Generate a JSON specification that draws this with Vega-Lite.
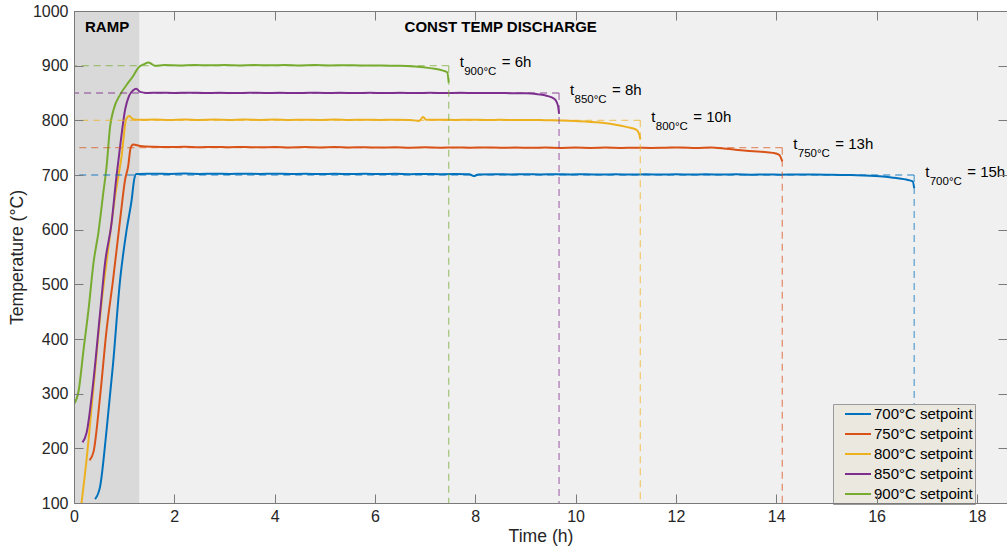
{
  "$schema": "https://vega.github.io/schema/vega-lite/v6.json",
  "width": 933,
  "height": 492,
  "autosize": {"type": "none"},
  "padding": {"left": 74, "top": 11, "right": 0, "bottom": 53},
  "background": "#ffffff",
  "config": {
    "font": "Liberation Sans",
    "view": {"stroke": null, "fill": "#f0f0f0"},
    "axis": {"grid": false}
  },
  "datasets": {
    "ramp": [{"x0": 0, "x1": 1.3, "y0": 100, "y1": 1000}],
    "labels": [
      {"t": 0.22, "T": 970, "text": "RAMP"},
      {"t": 6.59, "T": 970, "text": "CONST TEMP DISCHARGE"}
    ],
    "refs": [
      {"s": "700°C setpoint", "sp": 700, "te": 16.75, "sub": "700°C", "eq": "= 15h"},
      {"s": "750°C setpoint", "sp": 750, "te": 14.12, "sub": "750°C", "eq": "= 13h"},
      {"s": "800°C setpoint", "sp": 800, "te": 11.29, "sub": "800°C", "eq": "= 10h"},
      {"s": "850°C setpoint", "sp": 850, "te": 9.67, "sub": "850°C", "eq": "= 8h"},
      {"s": "900°C setpoint", "sp": 900, "te": 7.47, "sub": "900°C", "eq": "= 6h"}
    ],
    "lines": [
      {"s": "700°C setpoint", "t": 0.42, "T": 107}, {"s": "700°C setpoint", "t": 0.52, "T": 130}, {"s": "700°C setpoint", "t": 0.65, "T": 234}, {"s": "700°C setpoint", "t": 0.78, "T": 356}, {"s": "700°C setpoint", "t": 0.92, "T": 509}, {"s": "700°C setpoint", "t": 1.05, "T": 600}, {"s": "700°C setpoint", "t": 1.15, "T": 655}, {"s": "700°C setpoint", "t": 1.2, "T": 692}, {"s": "700°C setpoint", "t": 1.24, "T": 702}, {"s": "700°C setpoint", "t": 1.3, "T": 702}, {"s": "700°C setpoint", "t": 1.6, "T": 702.5}, {"s": "700°C setpoint", "t": 1.9, "T": 702}, {"s": "700°C setpoint", "t": 2.2, "T": 702.6}, {"s": "700°C setpoint", "t": 2.5, "T": 702}, {"s": "700°C setpoint", "t": 2.8, "T": 702.5}, {"s": "700°C setpoint", "t": 3.1, "T": 701.9}, {"s": "700°C setpoint", "t": 3.4, "T": 702.4}, {"s": "700°C setpoint", "t": 3.7, "T": 701.9}, {"s": "700°C setpoint", "t": 4, "T": 702.4}, {"s": "700°C setpoint", "t": 4.3, "T": 701.8}, {"s": "700°C setpoint", "t": 4.6, "T": 702.3}, {"s": "700°C setpoint", "t": 4.9, "T": 701.8}, {"s": "700°C setpoint", "t": 5.2, "T": 702.3}, {"s": "700°C setpoint", "t": 5.5, "T": 701.7}, {"s": "700°C setpoint", "t": 5.8, "T": 702.2}, {"s": "700°C setpoint", "t": 6.1, "T": 701.7}, {"s": "700°C setpoint", "t": 6.4, "T": 702.1}, {"s": "700°C setpoint", "t": 6.7, "T": 701.6}, {"s": "700°C setpoint", "t": 7, "T": 702}, {"s": "700°C setpoint", "t": 7.3, "T": 701.5}, {"s": "700°C setpoint", "t": 7.6, "T": 701.7}, {"s": "700°C setpoint", "t": 7.88, "T": 701.2}, {"s": "700°C setpoint", "t": 7.97, "T": 698}, {"s": "700°C setpoint", "t": 8.06, "T": 701}, {"s": "700°C setpoint", "t": 8.4, "T": 701.5}, {"s": "700°C setpoint", "t": 8.7, "T": 701}, {"s": "700°C setpoint", "t": 9, "T": 701.6}, {"s": "700°C setpoint", "t": 9.3, "T": 701}, {"s": "700°C setpoint", "t": 9.6, "T": 701.5}, {"s": "700°C setpoint", "t": 9.9, "T": 700.9}, {"s": "700°C setpoint", "t": 10.2, "T": 701.4}, {"s": "700°C setpoint", "t": 10.5, "T": 700.8}, {"s": "700°C setpoint", "t": 10.8, "T": 701.4}, {"s": "700°C setpoint", "t": 11.1, "T": 700.8}, {"s": "700°C setpoint", "t": 11.4, "T": 701.3}, {"s": "700°C setpoint", "t": 11.7, "T": 700.8}, {"s": "700°C setpoint", "t": 12, "T": 701.3}, {"s": "700°C setpoint", "t": 12.3, "T": 700.7}, {"s": "700°C setpoint", "t": 12.6, "T": 701.2}, {"s": "700°C setpoint", "t": 12.9, "T": 700.7}, {"s": "700°C setpoint", "t": 13.2, "T": 701.2}, {"s": "700°C setpoint", "t": 13.5, "T": 700.6}, {"s": "700°C setpoint", "t": 13.8, "T": 701.1}, {"s": "700°C setpoint", "t": 14.1, "T": 700.6}, {"s": "700°C setpoint", "t": 14.4, "T": 701.1}, {"s": "700°C setpoint", "t": 14.76, "T": 701}, {"s": "700°C setpoint", "t": 15.1, "T": 700.5}, {"s": "700°C setpoint", "t": 15.5, "T": 699.8}, {"s": "700°C setpoint", "t": 16.06, "T": 697.7}, {"s": "700°C setpoint", "t": 16.3, "T": 695.5}, {"s": "700°C setpoint", "t": 16.59, "T": 691.6}, {"s": "700°C setpoint", "t": 16.72, "T": 688.5}, {"s": "700°C setpoint", "t": 16.75, "T": 676},

      {"s": "750°C setpoint", "t": 0.31, "T": 178}, {"s": "750°C setpoint", "t": 0.39, "T": 194}, {"s": "750°C setpoint", "t": 0.52, "T": 295}, {"s": "750°C setpoint", "t": 0.65, "T": 417}, {"s": "750°C setpoint", "t": 0.78, "T": 509}, {"s": "750°C setpoint", "t": 0.92, "T": 619}, {"s": "750°C setpoint", "t": 1.02, "T": 692}, {"s": "750°C setpoint", "t": 1.08, "T": 716}, {"s": "750°C setpoint", "t": 1.13, "T": 750}, {"s": "750°C setpoint", "t": 1.18, "T": 756}, {"s": "750°C setpoint", "t": 1.32, "T": 753}, {"s": "750°C setpoint", "t": 1.6, "T": 751.5}, {"s": "750°C setpoint", "t": 1.9, "T": 751}, {"s": "750°C setpoint", "t": 2.2, "T": 751.6}, {"s": "750°C setpoint", "t": 2.5, "T": 750.8}, {"s": "750°C setpoint", "t": 2.8, "T": 751.4}, {"s": "750°C setpoint", "t": 3.1, "T": 750.7}, {"s": "750°C setpoint", "t": 3.4, "T": 751.3}, {"s": "750°C setpoint", "t": 3.7, "T": 750.6}, {"s": "750°C setpoint", "t": 4, "T": 751.2}, {"s": "750°C setpoint", "t": 4.3, "T": 750.5}, {"s": "750°C setpoint", "t": 4.6, "T": 751}, {"s": "750°C setpoint", "t": 4.9, "T": 750.4}, {"s": "750°C setpoint", "t": 5.2, "T": 751}, {"s": "750°C setpoint", "t": 5.5, "T": 750.3}, {"s": "750°C setpoint", "t": 5.8, "T": 750.8}, {"s": "750°C setpoint", "t": 6.1, "T": 750.2}, {"s": "750°C setpoint", "t": 6.4, "T": 750.8}, {"s": "750°C setpoint", "t": 6.7, "T": 750}, {"s": "750°C setpoint", "t": 7, "T": 750.6}, {"s": "750°C setpoint", "t": 7.3, "T": 750}, {"s": "750°C setpoint", "t": 7.6, "T": 750.5}, {"s": "750°C setpoint", "t": 7.9, "T": 750}, {"s": "750°C setpoint", "t": 8.2, "T": 750.4}, {"s": "750°C setpoint", "t": 8.5, "T": 749.8}, {"s": "750°C setpoint", "t": 8.8, "T": 750.3}, {"s": "750°C setpoint", "t": 9.1, "T": 749.7}, {"s": "750°C setpoint", "t": 9.4, "T": 750.2}, {"s": "750°C setpoint", "t": 9.7, "T": 749.6}, {"s": "750°C setpoint", "t": 10, "T": 750.1}, {"s": "750°C setpoint", "t": 10.3, "T": 749.5}, {"s": "750°C setpoint", "t": 10.6, "T": 750.1}, {"s": "750°C setpoint", "t": 10.9, "T": 749.6}, {"s": "750°C setpoint", "t": 11.2, "T": 750}, {"s": "750°C setpoint", "t": 11.5, "T": 749.5}, {"s": "750°C setpoint", "t": 11.8, "T": 750}, {"s": "750°C setpoint", "t": 12.1, "T": 750.5}, {"s": "750°C setpoint", "t": 12.4, "T": 749.5}, {"s": "750°C setpoint", "t": 12.7, "T": 750.5}, {"s": "750°C setpoint", "t": 13, "T": 748}, {"s": "750°C setpoint", "t": 13.4, "T": 744.5}, {"s": "750°C setpoint", "t": 13.7, "T": 742.5}, {"s": "750°C setpoint", "t": 13.93, "T": 740.5}, {"s": "750°C setpoint", "t": 14.06, "T": 737}, {"s": "750°C setpoint", "t": 14.12, "T": 725},

      {"s": "800°C setpoint", "t": 0.15, "T": 100}, {"s": "800°C setpoint", "t": 0.25, "T": 179}, {"s": "800°C setpoint", "t": 0.39, "T": 313}, {"s": "800°C setpoint", "t": 0.55, "T": 466}, {"s": "800°C setpoint", "t": 0.69, "T": 570}, {"s": "800°C setpoint", "t": 0.82, "T": 661}, {"s": "800°C setpoint", "t": 0.95, "T": 735}, {"s": "800°C setpoint", "t": 1.04, "T": 802}, {"s": "800°C setpoint", "t": 1.1, "T": 808}, {"s": "800°C setpoint", "t": 1.18, "T": 802}, {"s": "800°C setpoint", "t": 1.3, "T": 801}, {"s": "800°C setpoint", "t": 1.6, "T": 801.5}, {"s": "800°C setpoint", "t": 1.9, "T": 800.8}, {"s": "800°C setpoint", "t": 2.2, "T": 801.5}, {"s": "800°C setpoint", "t": 2.5, "T": 800.8}, {"s": "800°C setpoint", "t": 2.8, "T": 801.3}, {"s": "800°C setpoint", "t": 3.1, "T": 800.7}, {"s": "800°C setpoint", "t": 3.4, "T": 801.4}, {"s": "800°C setpoint", "t": 3.7, "T": 800.8}, {"s": "800°C setpoint", "t": 4, "T": 801.3}, {"s": "800°C setpoint", "t": 4.3, "T": 800.6}, {"s": "800°C setpoint", "t": 4.6, "T": 801.2}, {"s": "800°C setpoint", "t": 4.9, "T": 800.7}, {"s": "800°C setpoint", "t": 5.2, "T": 801.3}, {"s": "800°C setpoint", "t": 5.5, "T": 800.6}, {"s": "800°C setpoint", "t": 5.8, "T": 801.1}, {"s": "800°C setpoint", "t": 6.1, "T": 800.7}, {"s": "800°C setpoint", "t": 6.4, "T": 801.2}, {"s": "800°C setpoint", "t": 6.7, "T": 800.8}, {"s": "800°C setpoint", "t": 6.88, "T": 799}, {"s": "800°C setpoint", "t": 6.96, "T": 806}, {"s": "800°C setpoint", "t": 7.02, "T": 801}, {"s": "800°C setpoint", "t": 7.3, "T": 801.2}, {"s": "800°C setpoint", "t": 7.6, "T": 800.7}, {"s": "800°C setpoint", "t": 7.9, "T": 801.2}, {"s": "800°C setpoint", "t": 8.2, "T": 800.6}, {"s": "800°C setpoint", "t": 8.5, "T": 801}, {"s": "800°C setpoint", "t": 8.8, "T": 800.5}, {"s": "800°C setpoint", "t": 9.1, "T": 800.8}, {"s": "800°C setpoint", "t": 9.4, "T": 800.2}, {"s": "800°C setpoint", "t": 9.7, "T": 799.8}, {"s": "800°C setpoint", "t": 10, "T": 798.8}, {"s": "800°C setpoint", "t": 10.48, "T": 796}, {"s": "800°C setpoint", "t": 10.8, "T": 792}, {"s": "800°C setpoint", "t": 11.01, "T": 788}, {"s": "800°C setpoint", "t": 11.21, "T": 783}, {"s": "800°C setpoint", "t": 11.27, "T": 774}, {"s": "800°C setpoint", "t": 11.29, "T": 765},

      {"s": "850°C setpoint", "t": 0.17, "T": 211}, {"s": "850°C setpoint", "t": 0.25, "T": 228}, {"s": "850°C setpoint", "t": 0.39, "T": 326}, {"s": "850°C setpoint", "t": 0.52, "T": 448}, {"s": "850°C setpoint", "t": 0.62, "T": 540}, {"s": "850°C setpoint", "t": 0.75, "T": 613}, {"s": "850°C setpoint", "t": 0.84, "T": 692}, {"s": "850°C setpoint", "t": 0.92, "T": 753}, {"s": "850°C setpoint", "t": 1.02, "T": 820}, {"s": "850°C setpoint", "t": 1.1, "T": 845}, {"s": "850°C setpoint", "t": 1.18, "T": 855}, {"s": "850°C setpoint", "t": 1.24, "T": 858}, {"s": "850°C setpoint", "t": 1.32, "T": 852}, {"s": "850°C setpoint", "t": 1.45, "T": 850}, {"s": "850°C setpoint", "t": 1.7, "T": 850.5}, {"s": "850°C setpoint", "t": 2, "T": 850}, {"s": "850°C setpoint", "t": 2.3, "T": 850.6}, {"s": "850°C setpoint", "t": 2.6, "T": 850}, {"s": "850°C setpoint", "t": 2.9, "T": 850.4}, {"s": "850°C setpoint", "t": 3.2, "T": 849.8}, {"s": "850°C setpoint", "t": 3.5, "T": 850.5}, {"s": "850°C setpoint", "t": 3.8, "T": 850}, {"s": "850°C setpoint", "t": 4.1, "T": 850.4}, {"s": "850°C setpoint", "t": 4.4, "T": 849.9}, {"s": "850°C setpoint", "t": 4.7, "T": 850.5}, {"s": "850°C setpoint", "t": 5, "T": 850}, {"s": "850°C setpoint", "t": 5.3, "T": 850.3}, {"s": "850°C setpoint", "t": 5.6, "T": 849.8}, {"s": "850°C setpoint", "t": 5.9, "T": 850.4}, {"s": "850°C setpoint", "t": 6.2, "T": 850}, {"s": "850°C setpoint", "t": 6.5, "T": 850.3}, {"s": "850°C setpoint", "t": 6.8, "T": 849.8}, {"s": "850°C setpoint", "t": 7.1, "T": 850.3}, {"s": "850°C setpoint", "t": 7.4, "T": 850}, {"s": "850°C setpoint", "t": 7.7, "T": 850.4}, {"s": "850°C setpoint", "t": 8, "T": 850}, {"s": "850°C setpoint", "t": 8.3, "T": 850.2}, {"s": "850°C setpoint", "t": 8.6, "T": 849.8}, {"s": "850°C setpoint", "t": 9.02, "T": 849.5}, {"s": "850°C setpoint", "t": 9.25, "T": 847.5}, {"s": "850°C setpoint", "t": 9.42, "T": 845}, {"s": "850°C setpoint", "t": 9.58, "T": 839}, {"s": "850°C setpoint", "t": 9.65, "T": 826}, {"s": "850°C setpoint", "t": 9.67, "T": 812},

      {"s": "900°C setpoint", "t": 0, "T": 281}, {"s": "900°C setpoint", "t": 0.09, "T": 304}, {"s": "900°C setpoint", "t": 0.19, "T": 380}, {"s": "900°C setpoint", "t": 0.29, "T": 454}, {"s": "900°C setpoint", "t": 0.39, "T": 540}, {"s": "900°C setpoint", "t": 0.49, "T": 597}, {"s": "900°C setpoint", "t": 0.585, "T": 668}, {"s": "900°C setpoint", "t": 0.65, "T": 716}, {"s": "900°C setpoint", "t": 0.72, "T": 789}, {"s": "900°C setpoint", "t": 0.79, "T": 820}, {"s": "900°C setpoint", "t": 0.92, "T": 847}, {"s": "900°C setpoint", "t": 1.05, "T": 865}, {"s": "900°C setpoint", "t": 1.18, "T": 881}, {"s": "900°C setpoint", "t": 1.28, "T": 896}, {"s": "900°C setpoint", "t": 1.4, "T": 903}, {"s": "900°C setpoint", "t": 1.48, "T": 906}, {"s": "900°C setpoint", "t": 1.55, "T": 903}, {"s": "900°C setpoint", "t": 1.61, "T": 900}, {"s": "900°C setpoint", "t": 1.8, "T": 901}, {"s": "900°C setpoint", "t": 2.1, "T": 900.5}, {"s": "900°C setpoint", "t": 2.4, "T": 901.2}, {"s": "900°C setpoint", "t": 2.7, "T": 900.6}, {"s": "900°C setpoint", "t": 3, "T": 901}, {"s": "900°C setpoint", "t": 3.3, "T": 900.4}, {"s": "900°C setpoint", "t": 3.6, "T": 901}, {"s": "900°C setpoint", "t": 3.9, "T": 900.6}, {"s": "900°C setpoint", "t": 4.2, "T": 901.2}, {"s": "900°C setpoint", "t": 4.5, "T": 900.5}, {"s": "900°C setpoint", "t": 4.8, "T": 901}, {"s": "900°C setpoint", "t": 5.1, "T": 900.4}, {"s": "900°C setpoint", "t": 5.4, "T": 900.8}, {"s": "900°C setpoint", "t": 5.7, "T": 900.3}, {"s": "900°C setpoint", "t": 6, "T": 900.4}, {"s": "900°C setpoint", "t": 6.3, "T": 900}, {"s": "900°C setpoint", "t": 6.5, "T": 900}, {"s": "900°C setpoint", "t": 6.8, "T": 898.5}, {"s": "900°C setpoint", "t": 7.1, "T": 895.5}, {"s": "900°C setpoint", "t": 7.36, "T": 891}, {"s": "900°C setpoint", "t": 7.44, "T": 888}, {"s": "900°C setpoint", "t": 7.47, "T": 869}
    ]
  },
  "layer": [
    {
      "data": {"name": "ramp"},
      "mark": {"type": "rect", "color": "#d9d9d9"},
      "encoding": {
        "x": {"field": "x0", "type": "quantitative", "scale": {"domain": [0, 18.6], "nice": false, "zero": false}, "axis": null},
        "x2": {"field": "x1"},
        "y": {"field": "y0", "type": "quantitative", "scale": {"domain": [100, 1000], "nice": false, "zero": false}, "axis": null},
        "y2": {"field": "y1"}
      }
    },
    {
      "data": {"name": "lines"},
      "mark": {"type": "line", "strokeWidth": 2, "clip": true, "interpolate": "monotone"},
      "encoding": {
        "x": {
          "field": "t", "type": "quantitative",
          "scale": {"domain": [0, 18.6], "nice": false, "zero": false},
          "axis": {
            "orient": "bottom", "title": "Time (h)", "values": [0, 2, 4, 6, 8, 10, 12, 14, 16, 18], "format": "d",
            "domainColor": "#7a7a7a", "tickColor": "#7a7a7a", "tickSize": -9, "tickWidth": 1,
            "labelFontSize": 16, "labelColor": "#262626", "labelPadding": 14, "labelFlush": false, "labelOverlap": false,
            "titleFontSize": 17.6, "titleFontWeight": "normal", "titleColor": "#262626", "titlePadding": 3, "zindex": 1
          }
        },
        "y": {
          "field": "T", "type": "quantitative",
          "scale": {"domain": [100, 1000], "nice": false, "zero": false},
          "axis": {
            "orient": "left", "title": "Temperature (°C)", "values": [100, 200, 300, 400, 500, 600, 700, 800, 900, 1000], "format": "d",
            "domainColor": "#7a7a7a", "tickColor": "#7a7a7a", "tickSize": -9, "tickWidth": 1,
            "labelFontSize": 16, "labelColor": "#262626", "labelPadding": 15, "labelOverlap": false,
            "titleFontSize": 17.6, "titleFontWeight": "normal", "titleColor": "#262626", "titlePadding": 6, "zindex": 1
          }
        },
        "color": {
          "field": "s", "type": "nominal",
          "scale": {
            "domain": ["700°C setpoint", "750°C setpoint", "800°C setpoint", "850°C setpoint", "900°C setpoint"],
            "range": ["#0072BD", "#D95319", "#EDB120", "#7E2F8E", "#77AC30"]
          },
          "legend": {
            "orient": "none", "legendX": 759, "legendY": 393, "title": null,
            "fillColor": "#ebe8e0", "strokeColor": "#9a9a9a", "padding": 2, "cornerRadius": 0,
            "symbolType": "stroke", "symbolSize": 676, "symbolStrokeWidth": 2, "symbolOffset": 9,
            "clipHeight": 16, "rowPadding": 4, "columnPadding": 0, "columns": 1,
            "labelFontSize": 15, "labelColor": "#000000", "labelOffset": 2, "labelLimit": 108
          }
        }
      }
    },
    {
      "data": {"name": "refs"},
      "mark": {"type": "rule", "strokeDash": [7, 5], "strokeWidth": 1.3, "opacity": 0.6},
      "encoding": {
        "x": {"field": "te", "type": "quantitative", "scale": {"domain": [0, 18.6], "nice": false, "zero": false}, "axis": null},
        "x2": {"datum": 0},
        "y": {"field": "sp", "type": "quantitative", "scale": {"domain": [100, 1000], "nice": false, "zero": false}, "axis": null},
        "stroke": {
          "field": "s", "type": "nominal",
          "scale": {
            "domain": ["700°C setpoint", "750°C setpoint", "800°C setpoint", "850°C setpoint", "900°C setpoint"],
            "range": ["#0072BD", "#D95319", "#EDB120", "#7E2F8E", "#77AC30"]
          },
          "legend": null
        }
      }
    },
    {
      "data": {"name": "refs"},
      "mark": {"type": "rule", "strokeDash": [7, 5], "strokeWidth": 1.3, "opacity": 0.6},
      "encoding": {
        "x": {"field": "te", "type": "quantitative", "scale": {"domain": [0, 18.6], "nice": false, "zero": false}, "axis": null},
        "y": {"field": "sp", "type": "quantitative", "scale": {"domain": [100, 1000], "nice": false, "zero": false}, "axis": null},
        "y2": {"datum": 100},
        "stroke": {
          "field": "s", "type": "nominal",
          "scale": {
            "domain": ["700°C setpoint", "750°C setpoint", "800°C setpoint", "850°C setpoint", "900°C setpoint"],
            "range": ["#0072BD", "#D95319", "#EDB120", "#7E2F8E", "#77AC30"]
          },
          "legend": null
        }
      }
    },
    {
      "data": {"name": "refs"},
      "mark": {"type": "text", "text": "t", "align": "left", "baseline": "alphabetic", "dx": 11, "dy": 1.5, "fontSize": 15, "color": "#000000"},
      "encoding": {
        "x": {"field": "te", "type": "quantitative", "scale": {"domain": [0, 18.6], "nice": false, "zero": false}, "axis": null},
        "y": {"field": "sp", "type": "quantitative", "scale": {"domain": [100, 1000], "nice": false, "zero": false}, "axis": null}
      }
    },
    {
      "data": {"name": "refs"},
      "mark": {"type": "text", "align": "left", "baseline": "alphabetic", "dx": 15.5, "dy": 9.5, "fontSize": 11.5, "color": "#000000"},
      "encoding": {
        "x": {"field": "te", "type": "quantitative", "scale": {"domain": [0, 18.6], "nice": false, "zero": false}, "axis": null},
        "y": {"field": "sp", "type": "quantitative", "scale": {"domain": [100, 1000], "nice": false, "zero": false}, "axis": null},
        "text": {"field": "sub"}
      }
    },
    {
      "data": {"name": "refs"},
      "mark": {"type": "text", "align": "left", "baseline": "alphabetic", "dx": 53, "dy": 1.5, "fontSize": 15, "color": "#000000"},
      "encoding": {
        "x": {"field": "te", "type": "quantitative", "scale": {"domain": [0, 18.6], "nice": false, "zero": false}, "axis": null},
        "y": {"field": "sp", "type": "quantitative", "scale": {"domain": [100, 1000], "nice": false, "zero": false}, "axis": null},
        "text": {"field": "eq"}
      }
    },
    {
      "data": {"name": "labels"},
      "mark": {"type": "text", "align": "left", "baseline": "middle", "fontSize": 15, "fontWeight": "bold", "color": "#000000"},
      "encoding": {
        "x": {"field": "t", "type": "quantitative", "scale": {"domain": [0, 18.6], "nice": false, "zero": false}, "axis": null},
        "y": {"field": "T", "type": "quantitative", "scale": {"domain": [100, 1000], "nice": false, "zero": false}, "axis": null},
        "text": {"field": "text"}
      }
    },
    {
      "data": {"name": "refs"},
      "mark": {"type": "point", "opacity": 0},
      "encoding": {
        "x": {
          "field": "te", "type": "quantitative", "scale": {"domain": [0, 18.6], "nice": false, "zero": false},
          "axis": {"orient": "top", "title": null, "labels": false, "values": [0, 2, 4, 6, 8, 10, 12, 14, 16, 18], "domainColor": "#7a7a7a", "tickColor": "#7a7a7a", "tickSize": -9, "tickWidth": 1, "zindex": 1}
        },
        "y": {
          "field": "sp", "type": "quantitative", "scale": {"domain": [100, 1000], "nice": false, "zero": false},
          "axis": {"orient": "right", "title": null, "labels": false, "domain": false, "values": [100, 200, 300, 400, 500, 600, 700, 800, 900, 1000], "tickColor": "#7a7a7a", "tickSize": -9, "tickWidth": 1, "zindex": 1}
        }
      }
    }
  ],
  "resolve": {"axis": {"x": "independent", "y": "independent"}}
}
